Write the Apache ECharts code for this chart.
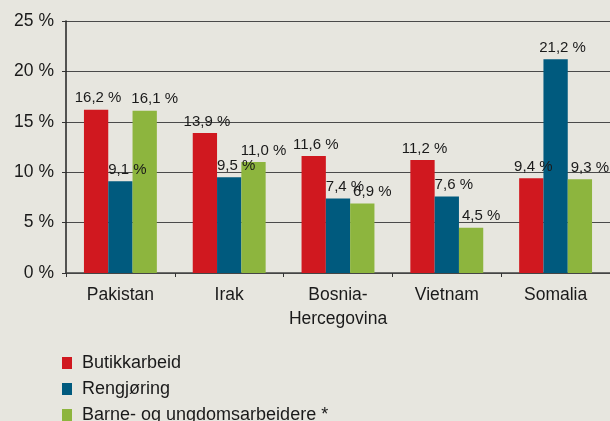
<!DOCTYPE html>
<html>
<head>
<meta charset="utf-8">
<script src="https://cdn.jsdelivr.net/npm/echarts@6/dist/echarts.min.js"></script>
<style>
  html, body { margin: 0; padding: 0; background: #e7e6df; }
  #chart { width: 610px; height: 421px; }
</style>
</head>
<body>
<div id="chart"></div>
<script>
// kategorier og verdier lest av figuren
var land = ["Pakistan", "Irak", "Bosnia-\nHercegovina", "Vietnam", "Somalia"];
var serieNavn = ["Butikkarbeid", "Rengjøring", "Barne- og ungdomsarbeidere *"];
var butikk = [16.2, 13.9, 11.6, 11.2, 9.4];
var rengjoring = [9.1, 9.5, 7.4, 7.6, 21.2];
var barne = [16.1, 11.0, 6.9, 4.5, 9.3];
var yTicks = [0, 5, 10, 15, 20, 25];

var font = "Liberation Sans";

function etikett(dx) {
  return {
    show: true,
    position: "top",
    distance: 4,
    offset: [dx, 0],
    fontFamily: font,
    fontSize: 15,
    color: "#1a1a1a",
    formatter: function (p) {
      return p.value.toFixed(1).replace(".", ",") + " %";
    },
  };
}

// en legend per rad, så den ikke brytes i to kolonner nederst
var legender = serieNavn.map(function (navn, i) {
  return {
    orient: "vertical",
    left: 62,
    top: 354 + i * 26,
    padding: 0,
    itemWidth: 10,
    itemHeight: 12,
    icon: "rect",
    textStyle: {
      fontFamily: font,
      fontSize: 18,
      color: "#1a1a1a",
      padding: [0, 0, 0, 5],
    },
    data: [navn],
  };
});

var myecharts = echarts.init(document.getElementById("chart"));
myecharts.setOption({
  backgroundColor: "#e7e6df",
  animation: false,
  grid: {
    left: 66,
    right: 0,
    top: 21,
    bottom: 148,
  },
  legend: legender,
  xAxis: {
    type: "category",
    data: land,
    axisLine: { lineStyle: { color: "#444", width: 1.5 } },
    axisTick: { show: true, length: 4, lineStyle: { color: "#333" } },
    axisLabel: {
      fontFamily: font,
      fontSize: 17.5,
      color: "#1a1a1a",
      margin: 10,
      lineHeight: 24,
      interval: 0,
    },
  },
  yAxis: {
    type: "value",
    min: yTicks[0],
    max: yTicks[yTicks.length - 1],
    interval: yTicks[1] - yTicks[0],
    axisLine: { show: true, lineStyle: { color: "#222", width: 1.5 } },
    axisTick: { show: true, length: 4, lineStyle: { color: "#333" } },
    axisLabel: {
      fontFamily: font,
      fontSize: 17.5,
      color: "#1a1a1a",
      margin: 12,
      formatter: "{value} %",
    },
    splitLine: { lineStyle: { color: "#4a4a4a", width: 1 } },
  },
  series: [
    {
      name: serieNavn[0],
      type: "bar",
      data: butikk,
      barGap: "0%",
      barCategoryGap: "33%",
      itemStyle: { color: "#d0181f" },
      label: etikett(2),
    },
    {
      name: serieNavn[1],
      type: "bar",
      data: rengjoring,
      itemStyle: { color: "#005a7e" },
      label: etikett(7),
    },
    {
      name: serieNavn[2],
      type: "bar",
      data: barne,
      itemStyle: { color: "#8db53e" },
      label: etikett(10),
    },
  ],
});
</script>
</body>
</html>
